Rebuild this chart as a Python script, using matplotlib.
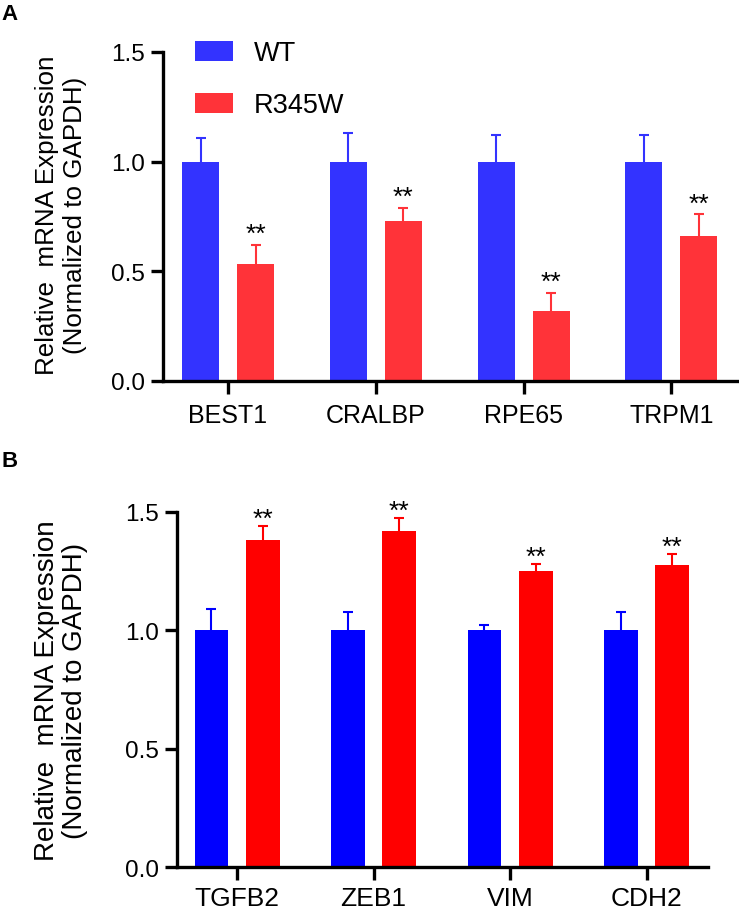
import numpy as np
import matplotlib
matplotlib.use("Agg")
from matplotlib import pyplot as plt

plt.rcParams['font.family'] = ['Liberation Sans', 'DejaVu Sans']

# panel A data
genes_a = ['BEST1', 'CRALBP', 'RPE65', 'TRPM1']
wt_a = [1.0, 1.0, 1.0, 1.0]
wt_a_err = [0.11, 0.13, 0.12, 0.12]
mut_a = [0.535, 0.73, 0.32, 0.66]
mut_a_err = [0.085, 0.06, 0.08, 0.10]

# panel B data
genes_b = ['TGFB2', 'ZEB1', 'VIM', 'CDH2']
wt_b = [1.0, 1.0, 1.0, 1.0]
wt_b_err = [0.09, 0.075, 0.022, 0.075]
mut_b = [1.38, 1.42, 1.25, 1.275]
mut_b_err = [0.058, 0.053, 0.028, 0.048]

ylabel = 'Relative  mRNA Expression\n(Normalized to GAPDH)'


def draw_panel(ax, genes, wt, wt_err, mut, mut_err, c_wt, c_mut, width, off,
			   star_pad, xfs, xpad):
	x = np.arange(len(genes))
	ax.bar(x - off, wt, width, color=c_wt, label='WT')
	ax.bar(x + off, mut, width, color=c_mut, label='R345W')
	# upward-only error bars, hide the lower cap
	for xs, ys, es, c in [(x - off, wt, wt_err, c_wt), (x + off, mut, mut_err, c_mut)]:
		eb = ax.errorbar(xs, ys, yerr=[np.zeros(len(ys)), es], fmt='none',
						 ecolor=c, elinewidth=1.5, capsize=3.8, capthick=1.5)
		eb[1][0].set_visible(False)
	for i in range(len(genes)):
		ax.text(x[i] + off, mut[i] + mut_err[i] + star_pad, '**', ha='center',
				va='bottom', fontsize=19)
	ax.set_xticks(x)
	ax.set_xticklabels(genes, fontsize=xfs)
	ax.set_ylim(0, 1.5)
	ax.set_yticks([0, 0.5, 1.0, 1.5])
	ax.set_yticklabels(['0.0', '0.5', '1.0', '1.5'], fontsize=17.5)
	ax.set_xlim(-0.44, len(genes) - 1 + 0.45)
	for s in ['top', 'right']:
		ax.spines[s].set_visible(False)
	for s in ['left', 'bottom']:
		ax.spines[s].set_linewidth(2.4)
	ax.tick_params(width=2.4, length=9, pad=4)
	ax.tick_params(axis='x', pad=xpad)


fig = plt.figure(figsize=(7.39, 9.2), dpi=100)

ax1 = fig.add_axes([0.2206, 0.5848, 0.778, 0.3576])
draw_panel(ax1, genes_a, wt_a, wt_a_err, mut_a, mut_a_err,
		   '#3333FF', '#FF3339', 0.25, 0.186, -0.005, 18, 7)
ax1.legend(loc='upper left', bbox_to_anchor=(0.055, 1.035), frameon=False,
		   fontsize=19.5, handlelength=1.4, handleheight=0.75,
		   handletextpad=0.8, labelspacing=0.95, borderpad=0, borderaxespad=0)

ax2 = fig.add_axes([0.2395, 0.0565, 0.7185, 0.3862])
draw_panel(ax2, genes_b, wt_b, wt_b_err, mut_b, mut_b_err,
		   '#0000FF', '#FF0000', 0.247, 0.188, -0.02, 19, 5)

fig.text(0.083, 1 - 215 / 920, ylabel, rotation=90, ha='center', va='center',
		 fontsize=18.7, linespacing=1.2)
fig.text(0.083, 1 - 691 / 920, ylabel, rotation=90, ha='center', va='center',
		 fontsize=20, linespacing=1.1)

fig.text(0.002, 1 - 15 / 920, 'A', fontsize=16, fontweight='bold', va='center')
fig.text(0.002, 1 - 462 / 920, 'B', fontsize=16, fontweight='bold', va='center')

fig.savefig('out.png', dpi=100)
